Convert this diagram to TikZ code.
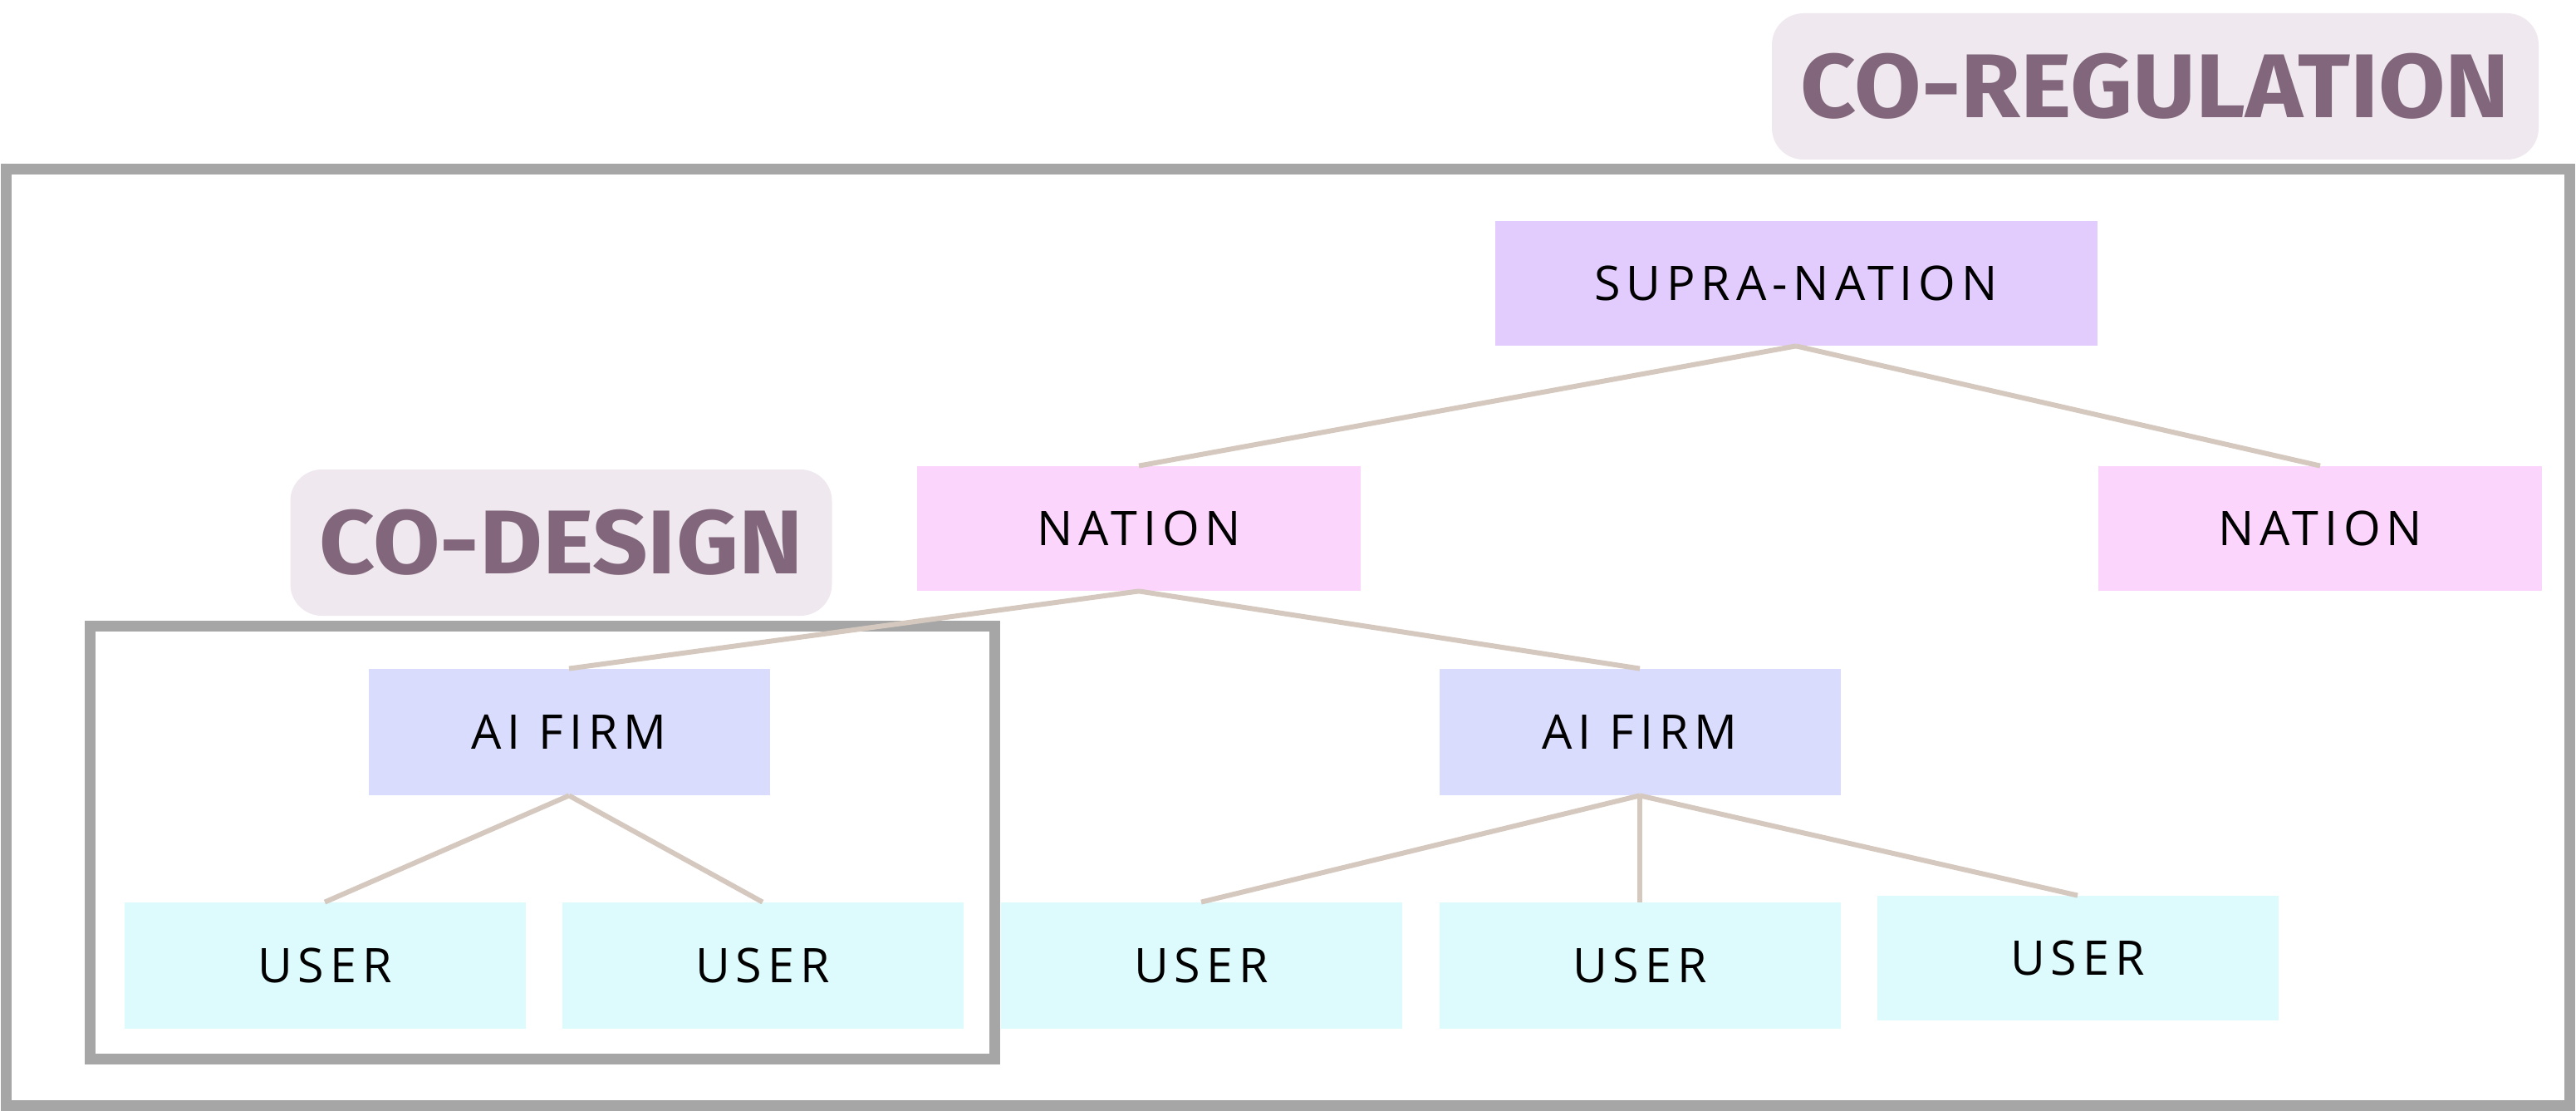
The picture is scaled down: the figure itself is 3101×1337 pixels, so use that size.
\documentclass[tikz,border=0pt]{standalone}
\usepackage{fontspec}
\newfontfamily\nodefont[LetterSpace=12]{Open Sans}
\newfontfamily\titlefont[FakeStretch=1.07]{Fira Sans}
\definecolor{framegray}{HTML}{A6A6A6}
\definecolor{labelfill}{HTML}{EFE8EE}
\definecolor{labeltext}{HTML}{82677C}
\definecolor{supracol}{HTML}{E1CCFD}
\definecolor{nationcol}{HTML}{FCD5FD}
\definecolor{firmcol}{HTML}{D9DCFD}
\definecolor{usercol}{HTML}{DDFAFD}
\definecolor{conncol}{HTML}{D5C8BF}
\tikzset{
  frame/.style={draw=framegray, line width=6.5pt},
  label/.style={fill=labelfill, rounded corners=19pt, inner sep=0pt, text=labeltext,
    font=\titlefont\bfseries\fontsize{54.5}{56}\selectfont},
  entity/.style={inner sep=0pt, text=black, font=\nodefont\fontsize{28.7}{30}\selectfont},
  supra/.style={entity, fill=supracol, minimum width=362.5pt, minimum height=75pt},
  nation/.style={entity, fill=nationcol, minimum width=267pt, minimum height=75pt},
  firm/.style={entity, fill=firmcol, minimum width=241.5pt, minimum height=76pt},
  user/.style={entity, fill=usercol, minimum width=241.5pt, minimum height=76pt},
  conn/.style={draw=conncol, line width=3pt}
}
\begin{document}
\begin{tikzpicture}[x=0.5pt,y=-0.5pt]
\useasboundingbox (0,0) rectangle (3101,1337);
% frames
\draw[frame] (7,204) rectangle (3093,1330);
\draw[frame] (108,753) rectangle (1197,1274);
% labels
\node[label, minimum width=461.5pt, minimum height=88pt] (coreg) at (2594.5,104) {CO-REGULATION};
\node[label, minimum width=326pt, minimum height=88pt] (codes) at (675.5,653) {CO-DESIGN};
% entities
\node[supra] (sn) at (2162,341) {SUPRA-NATION};
\node[nation] (nl) at (1371,636) {NATION};
\node[nation] (nr) at (2793,636) {NATION};
\node[firm] (fl) at (685,881) {AI FIRM};
\node[firm] (fr) at (1974,881) {AI FIRM};
\node[user] (u1) at (391,1162) {USER};
\node[user] (u2) at (918,1162) {USER};
\node[user] (u3) at (1446,1162) {USER};
\node[user] (u4) at (1974,1162) {USER};
\node[user, minimum height=75pt] (u5) at (2501,1153) {USER};
% connectors
\draw[conn] (sn.south) -- (nl.north);
\draw[conn] (sn.south) -- (nr.north);
\draw[conn] (nl.south) -- (fl.north);
\draw[conn] (nl.south) -- (fr.north);
\draw[conn] (fl.south) -- (u1.north);
\draw[conn] (fl.south) -- (u2.north);
\draw[conn] (fr.south) -- (u3.north);
\draw[conn] (fr.south) -- (u4.north);
\draw[conn] (fr.south) -- (u5.north);
\end{tikzpicture}
\end{document}
